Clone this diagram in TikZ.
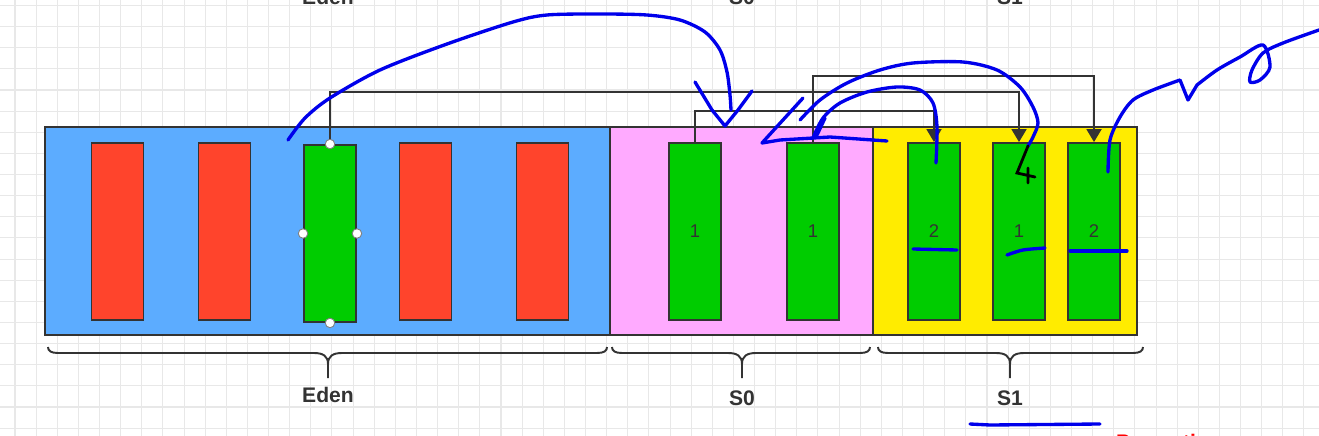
\documentclass[tikz,border=0pt]{standalone}
\usepackage{fontspec}
\setmainfont{Liberation Sans}
\usepackage{tikz}
\usetikzlibrary{arrows.meta,positioning}
\definecolor{edenblue}{RGB}{92,172,255}
\definecolor{sopink}{RGB}{255,170,255}
\definecolor{syellow}{RGB}{255,236,0}
\definecolor{objred}{RGB}{255,68,44}
\definecolor{objgreen}{RGB}{0,204,0}
\definecolor{linegray}{RGB}{51,51,51}
\definecolor{inkblue}{RGB}{0,0,235}
\definecolor{gridgray}{RGB}{232,232,232}

\begin{document}
\begin{tikzpicture}[x=0.02cm,y=-0.02cm,
  area/.style={draw=linegray,line width=1.1pt,minimum height=4.16cm,inner sep=0pt},
  obj/.style={draw=linegray,line width=1.1pt,minimum width=1.04cm,minimum height=3.54cm,inner sep=0pt,
    text=linegray,font=\fontsize{10.5}{12}\selectfont},
  handle/.style={circle,draw=gray,fill=white,line width=0.5pt,inner sep=0pt,minimum size=0.19cm},
  conn/.style={draw=linegray,line width=1.1pt,-{Triangle[length=0.26cm,width=0.3cm]}},
  ink/.style={draw=inkblue,line width=1.9pt,line cap=round,line join=round},
  lbl/.style={anchor=base,text=linegray,font=\bfseries\fontsize{12}{14}\selectfont},
  brace/.style={draw=linegray,line width=1.1pt}]
\useasboundingbox (0,0) rectangle (1319,436);
\fill[white] (0,0) rectangle (1319,436);
\foreach \i in {0,...,61}
  \draw[gridgray,line width=0.6pt] (15+21.13*\i,0) -- (15+21.13*\i,436);%縦線
\foreach \j in {0,...,20}
  \draw[gridgray,line width=0.6pt] (0,5.5+21.13*\j) -- (1319,5.5+21.13*\j);%横線

\node[area,fill=edenblue,minimum width=11.3cm] (eden) at (327.5,231) {};
\node[area,fill=sopink,minimum width=5.26cm] (szero) at (741.5,231) {};
\node[area,fill=syellow,minimum width=5.28cm] (sone) at (1005,231) {};

\foreach \x [count=\k] in {117.5,224.5,425.5,542.5}
  \node[obj,fill=objred] (red\k) at (\x,231.5) {};%死んだオブジェクト
\node[obj,fill=objgreen] (egreen) at (330,233.5) {};
\node[obj,fill=objgreen] (s0a) at (695,231.5) {1};
\node[obj,fill=objgreen] (s0b) at (813,231.5) {1};
\node[obj,fill=objgreen] (s1a) at (934,231.5) {2};
\node[obj,fill=objgreen] (s1b) at (1019,231.5) {1};
\node[obj,fill=objgreen] (s1c) at (1094,231.5) {2};

\draw[conn] (egreen.north) -- ++(0,-52) -| (s1b.north);
\draw[conn] (s0a.north) -- ++(0,-31) -| (s1a.north);
\draw[conn] (s0b.north) -- ++(0,-66) -| (s1c.north);
\foreach \a in {north,south,east,west}
  \node[handle] (h\a) at (egreen.\a) {};

% 括弧とラベル
\foreach \a/\m/\b/\n/\y in {48/328/607/Eden/402,612/742/870/S0/405,878/1010/1143/S1/405}
{
  \draw[brace] (\a,347) .. controls (\a,351) and (\a+3,353) .. (\a+10,353) -- (\m-14,353)
    .. controls (\m-5,353) and (\m,356) .. (\m,364) -- (\m,378)
    (\m,364) .. controls (\m,356) and (\m+5,353) .. (\m+14,353) -- (\b-10,353)
    .. controls (\b-3,353) and (\b,351) .. (\b,347);
  \node[lbl] (b\n) at (\m,\y) {\n};
  \node[lbl] (t\n) at (\m,5) {\n};
}
\node[anchor=base west,text=red,font=\bfseries\fontsize{12}{14}\selectfont] (promo) at (1110,449) {Promotion};

% 手書き
\draw[ink] plot[smooth] coordinates {(288,140) (305,118) (330,98) (380,70) (447,44) (513,22)
  (547,15) (600,14) (647,15) (680,20) (705,32) (720,50) (727,72) (730,95) (731,110)};
\draw[ink] (695,82) -- (712,110) -- (725,126) -- (738,110) -- (752,91);
\draw[ink] plot[smooth] coordinates {(800,120) (820,100) (847,83) (880,70) (913,63) (963,62)
  (997,70) (1020,87) (1033,107) (1038,123) (1033,137) (1028,146)};
\draw[black,line width=1.6pt,line cap=round] (1028,146) -- (1017,173) -- (1035,177)
  (1028,168) -- (1028,183);
\draw[ink] plot[smooth] coordinates {(813,138) (823,118) (840,103) (867,92) (897,87) (920,90)
  (933,103) (937,127) (936,163)};
\draw[ink] (817,135) -- (825,118);
\draw[ink] (803,98) -- (762,143) -- (780,140) -- (830,137) -- (887,141);
\draw[ink] plot[smooth] coordinates {(1108,172) (1110,140) (1120,117) (1133,100) (1153,90)
  (1180,80)} -- (1188,100) -- plot[smooth] coordinates {(1197,85) (1217,70) (1240,57) (1263,45)
  (1270,67) (1260,80) (1250,82) (1252,70) (1263,53) (1283,43) (1319,30)};
\draw[ink] (913,249) -- (957,250);
\draw[ink] plot[smooth] coordinates {(1007,255) (1023,250) (1045,248)};
\draw[ink] (1070,251) -- (1127,251);
\draw[ink] (970,424) -- (990,425) -- (1100,424);
\end{tikzpicture}
\end{document}
